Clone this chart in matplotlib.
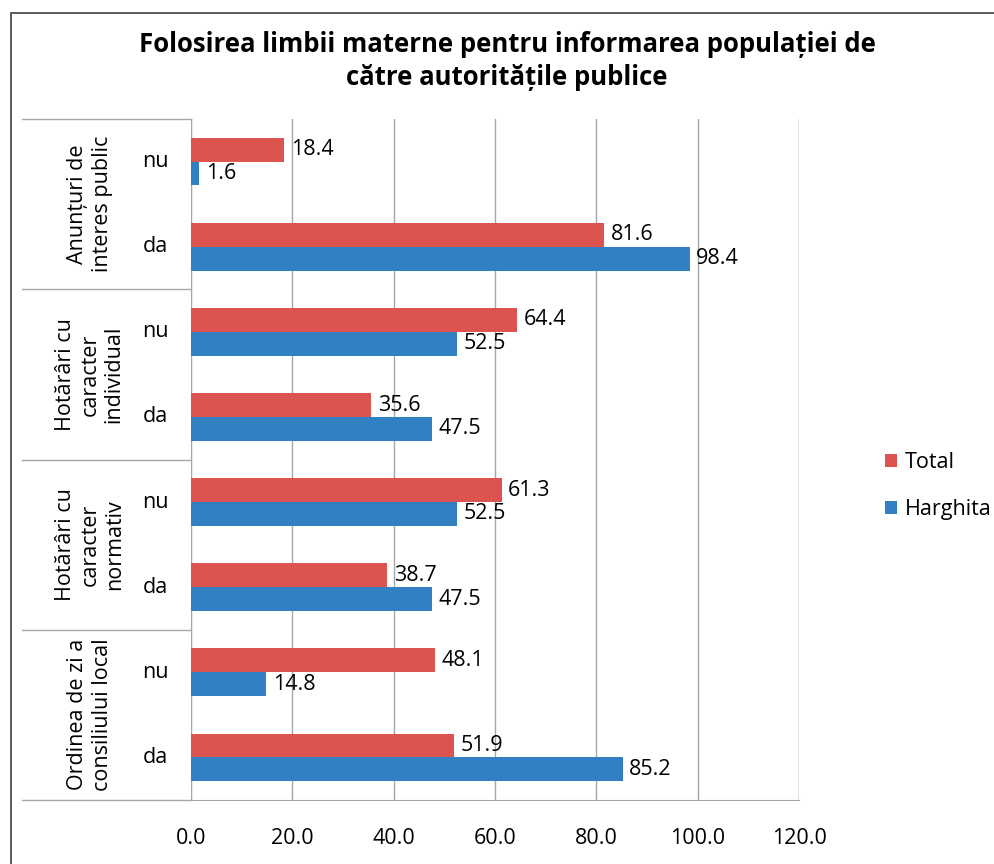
import matplotlib.pyplot as plt
from matplotlib.patches import Rectangle

plt.rcParams['font.family'] = ['Open Sans', 'DejaVu Sans']

groups = ["Anunțuri de\ninteres public",
          "Hotărâri cu\ncaracter\nindividual",
          "Hotărâri cu\ncaracter\nnormativ",
          "Ordinea de zi a\nconsiliului local"]
answers = ["nu", "da"]
total = [18.4, 81.6, 64.4, 35.6, 61.3, 38.7, 48.1, 51.9]
harghita = [1.6, 98.4, 52.5, 47.5, 52.5, 47.5, 14.8, 85.2]
xticks = [0, 20, 40, 60, 80, 100, 120]

red = "#DD5350"
blue = "#3180C1"
grid_col = "#A6A6A6"
fs = 15.5

fig = plt.figure(figsize=(9.94, 8.64), dpi=100)
ax = fig.add_axes([191 / 994, 1 - 800 / 864, 608 / 994, 681 / 864])

rows = list(range(len(total)))
h = 0.28
ax.barh([r - h / 2 for r in rows], total, height=h, color=red, label="Total", zorder=3)
ax.barh([r + h / 2 for r in rows], harghita, height=h, color=blue, label="Harghita", zorder=3)

for r in rows:
    ax.text(total[r] + 1.3, r - h / 2, f"{total[r]:.1f}", va="center", ha="left", fontsize=fs)
    ax.text(harghita[r] + 1.3, r + h / 2, f"{harghita[r]:.1f}", va="center", ha="left", fontsize=fs)

ax.set_xlim(0, 120)
ax.set_ylim(len(rows) - 0.5, -0.5)
ax.set_xticks(xticks)
ax.set_xticklabels([f"{v:.1f}" for v in xticks], fontsize=fs)
ax.tick_params(axis="x", length=0, pad=20)
ax.set_yticks([])
ax.grid(axis="x", color=grid_col, linewidth=1, zorder=0)
for s in ["top", "right"]:
    ax.spines[s].set_visible(False)
for s in ["left", "bottom"]:
    ax.spines[s].set_color(grid_col)
ax.axvline(120, color=grid_col, linewidth=1, zorder=0)

# category column: inner answer labels, outer group labels and separators
tr = ax.get_yaxis_transform()
x_left = (22 - 191) / 608
for r in rows:
    ax.text(-0.059, r, answers[r % 2], transform=tr, ha="center", va="center", fontsize=fs)
for g, name in enumerate(groups):
    ax.text(-0.166, 2 * g + 0.5, name, transform=tr, ha="center", va="center",
            rotation=90, fontsize=fs, multialignment="center", linespacing=1.2)
for yb in [-0.5, 1.5, 3.5, 5.5, 7.5]:
    ax.plot([x_left, 0], [yb, yb], transform=tr, color=grid_col, linewidth=1, clip_on=False)

fig.legend(loc="center left", bbox_to_anchor=(866 / 994, 1 - 486 / 864), frameon=False,
           fontsize=fs, handlelength=0.55, handleheight=0.55, handletextpad=0.35, labelspacing=1.2)

fig.text(507 / 994, 1 - 61 / 864,
         "Folosirea limbii materne pentru informarea populației de\ncătre autoritățile publice",
         ha="center", va="center", fontsize=18.5, fontweight="bold", linespacing=1.3)

fig.patches.append(Rectangle((11 / 994, -0.1), 1.2, 1 - 13 / 864 + 0.1, transform=fig.transFigure,
                             fill=False, edgecolor="#404040", linewidth=1.2))

fig.savefig("out.png", dpi=100)
